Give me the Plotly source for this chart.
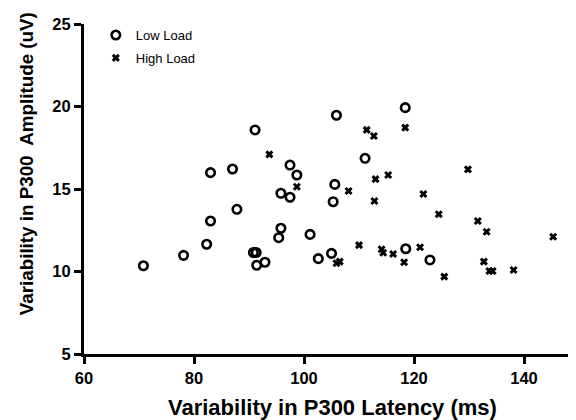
import plotly.graph_objects as go

# Low Load
low_x = [70.8, 78.1, 82.3, 83.0, 83.0, 87.0, 87.8, 90.8, 91.3, 91.4, 92.9, 95.4, 95.8, 91.1,
         97.45, 98.7, 95.8, 97.45, 105.9, 118.4, 111.1, 105.6, 105.3, 101.1, 102.6, 105.0, 118.5, 122.9]
low_y = [10.35, 10.98, 11.65, 13.06, 15.99, 16.21, 13.77, 11.15, 11.15, 10.38, 10.56, 12.05, 12.62, 18.58,
         16.45, 15.85, 14.74, 14.5, 19.47, 19.93, 16.86, 15.28, 14.23, 12.25, 10.78, 11.10, 11.38, 10.70]

# High Load
high_x = [93.7, 98.7, 111.4, 112.7, 118.4, 113.0, 115.3, 129.8, 108.1, 112.8, 121.7, 124.5, 131.6, 133.2,
          145.3, 110.0, 114.1, 114.4, 116.2, 121.1, 118.2, 105.9, 106.5, 125.5, 132.7, 133.7, 134.3, 138.1]
high_y = [17.1, 15.14, 18.58, 18.21, 18.72, 15.6, 15.85, 16.19, 14.88, 14.27, 14.70, 13.47, 13.06, 12.41,
          12.11, 11.6, 11.35, 11.14, 11.06, 11.47, 10.56, 10.50, 10.6, 9.69, 10.6, 10.03, 10.03, 10.09]

x_ticks = [60, 80, 100, 120, 140]
y_ticks = [5, 10, 15, 20, 25]

FONT = "Arial, Liberation Sans, Helvetica, sans-serif"

fig = go.Figure()
fig.add_trace(go.Scatter(
    x=low_x, y=low_y, mode="markers", name="Low Load", legendgroup="low",
    marker=dict(symbol="circle-open", size=8.5, color="black", line=dict(width=2.6, color="black")),
))
fig.add_trace(go.Scatter(
    x=high_x, y=high_y, mode="markers", name="High Load", legendgroup="high",
    marker=dict(symbol="x-thin", size=6, color="black", line=dict(width=3, color="black")),
))

axis_common = dict(
    showgrid=False, zeroline=False, showline=True, linecolor="black", linewidth=3,
    ticks="outside", ticklen=7, tickwidth=3, tickcolor="black",
    tickfont=dict(family=FONT, size=16.5, color="black", weight="bold"),
)

# page body adds an 8px margin, so the figure is sized to fill the remaining window
fig.update_layout(
    width=568, height=412,
    margin=dict(l=76, r=0, t=16, b=66),
    paper_bgcolor="white", plot_bgcolor="white",
    showlegend=True,
    legend=dict(x=0.024, y=1.012, xanchor="left", yanchor="top",
                font=dict(family=FONT, size=13, color="black"),
                traceorder="grouped", tracegroupgap=3,
                bgcolor="rgba(0,0,0,0)", itemwidth=30),
    xaxis=dict(range=[60, 149.45], tickvals=x_ticks, ticktext=[str(v) for v in x_ticks], **axis_common),
    yaxis=dict(range=[5, 25], tickvals=y_ticks, ticktext=[str(v) for v in y_ticks], **axis_common),
    annotations=[
        dict(text="Variability in P300 Latency (ms)", xref="paper", yref="paper",
             x=0.505, y=-0.163, xanchor="center", yanchor="middle", showarrow=False,
             font=dict(family=FONT, size=22, color="black", weight="bold")),
        dict(text="Variability in P300  Amplitude (uV)", xref="paper", yref="paper",
             x=-0.118, y=0.578, xanchor="center", yanchor="middle", showarrow=False, textangle=-90,
             font=dict(family=FONT, size=18.8, color="black", weight="bold")),
    ],
)

fig.write_html("out.html")
